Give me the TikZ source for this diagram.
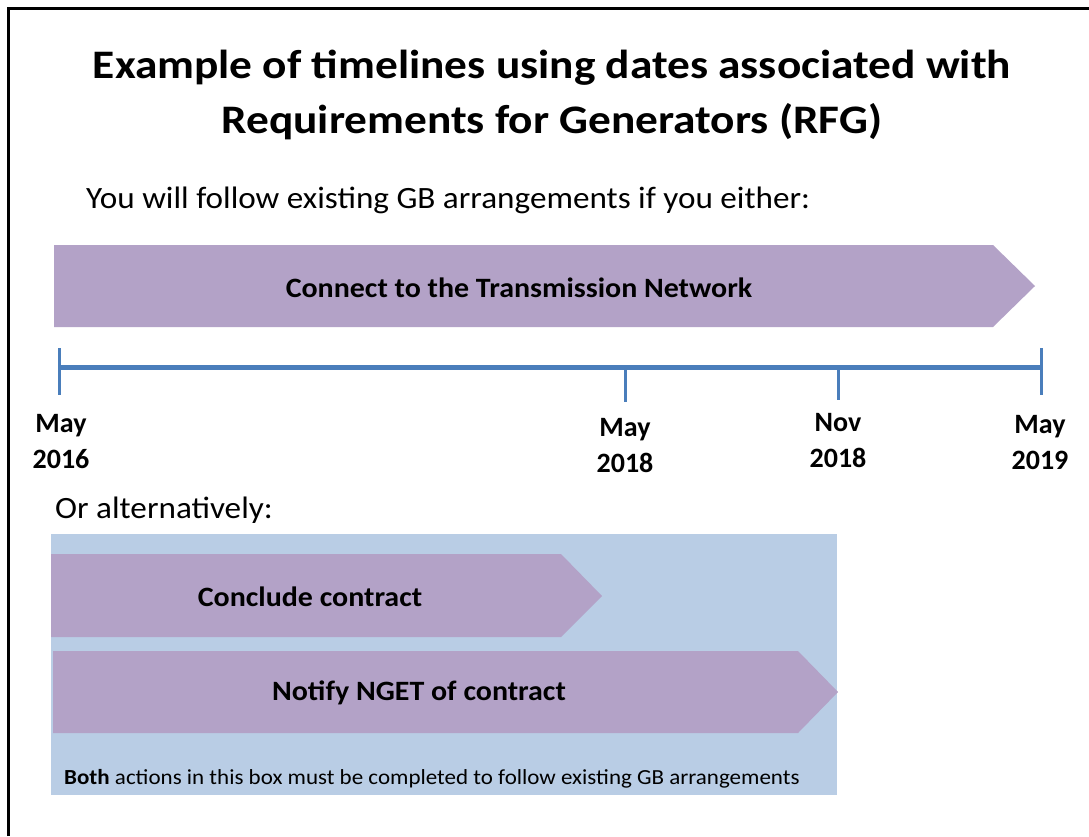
\documentclass[tikz,border=0pt]{standalone}
\usepackage{fontspec}
\setmainfont{Carlito}
\newfontfamily\titlefont{Carlito}[FakeStretch=1.12]
\newfontfamily\bodyfont{Carlito}[FakeStretch=1.07]
\definecolor{lav}{HTML}{B3A2C7}
\definecolor{boxblue}{HTML}{B9CDE5}
\definecolor{tlblue}{HTML}{4A7EBB}
\begin{document}
\begin{tikzpicture}[x=1pt,y=-1pt,
  lbl/.style={inner sep=0pt,font=\bodyfont\bfseries\fontsize{28}{34}\selectfont},
  datelbl/.style={inner sep=0pt,align=center,font=\bfseries\fontsize{28}{36}\selectfont},
  titlelbl/.style={inner sep=0pt,anchor=base,font=\titlefont\bfseries\fontsize{40.5}{48}\selectfont},
  bodytxt/.style={inner sep=0pt,anchor=base west,font=\bodyfont\fontsize{31}{37}\selectfont},
  tick/.style={draw=tlblue,line width=3pt},
  chev/.style={fill=lav,draw=none}]
\useasboundingbox (0,0) rectangle (1089,836);
\fill[white] (0,0) rectangle (1089,836);
% frame
\draw[line width=3pt] (8.5,836) -- (8.5,8.5) -- (1089,8.5);
% title
\node[titlelbl] (title1) at (552,78) {Example of timelines using dates associated with};
\node[titlelbl] (title2) at (552,133) {Requirements for Generators (RFG)};
\node[bodytxt] (sub) at (86,208) {You will follow existing GB arrangements if you either:};
% top chevron
\fill[chev] (54,245) -- (993,245) -- (1035,286) -- (993,327) -- (54,327) -- cycle;
\node[lbl] (connect) at (519,288) {Connect to the Transmission Network};
% timeline
\draw[draw=tlblue,line width=5pt] (59,367) -- (1041,367);
\draw[tick] (59,348) -- (59,395);
\draw[tick] (1041,348) -- (1041,395);
\draw[tick] (625,367) -- (625,402);
\draw[tick] (838,367) -- (838,400);
\node[datelbl] (d1) at (61,442) {May\\2016};
\node[datelbl] (d2) at (625,446) {May\\2018};
\node[datelbl] (d3) at (838,441) {Nov\\2018};
\node[datelbl] (d4) at (1040,443) {May\\2019};
\node[bodytxt] (alt) at (55,518) {Or alternatively:};
% box
\fill[boxblue] (51,534) rectangle (837,795);
\fill[chev] (51,554) -- (561,554) -- (602,596) -- (561,637) -- (51,637) -- cycle;
\fill[chev] (53,651) -- (798,651) -- (838,692) -- (798,733) -- (53,733) -- cycle;
\node[lbl] (conclude) at (310,597) {Conclude contract};
\node[lbl] (notify) at (419,693) {Notify NGET of contract};
\node[inner sep=0pt,anchor=base west,font=\bodyfont\fontsize{21.5}{26}\selectfont] (both) at (64,784)
  {\textbf{Both} actions in this box must be completed to follow existing GB arrangements};
\end{tikzpicture}
\end{document}
